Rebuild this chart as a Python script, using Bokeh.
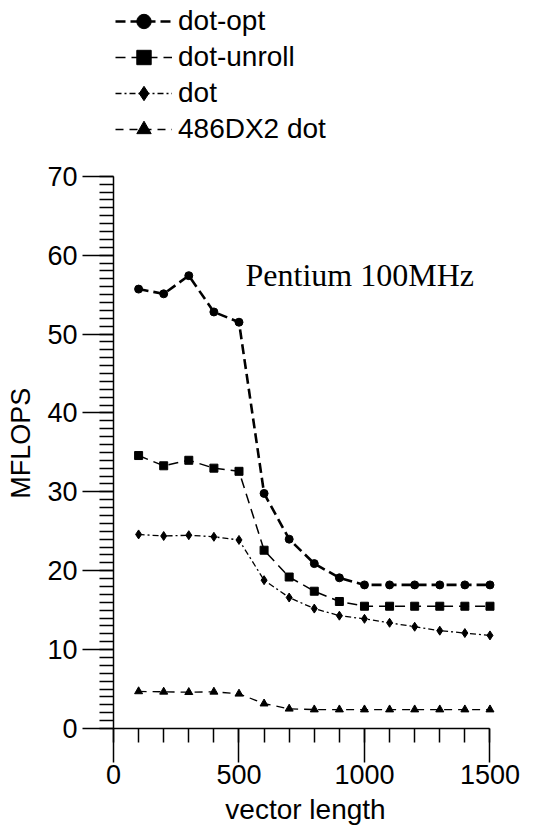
from bokeh.plotting import figure
from bokeh.models import Legend, LegendItem, Label, FixedTicker, Range1d
from bokeh.embed import file_html
from bokeh.resources import INLINE

vector_length = [100, 200, 300, 400, 500, 600, 700, 800, 900, 1000, 1100, 1200, 1300, 1400, 1500]
dot_opt = [55.7, 55.1, 57.4, 52.8, 51.5, 29.8, 24.0, 20.9, 19.1, 18.2, 18.2, 18.2, 18.2, 18.2, 18.2]
dot_unroll = [34.6, 33.3, 34.0, 33.0, 32.6, 22.6, 19.2, 17.4, 16.1, 15.5, 15.5, 15.5, 15.5, 15.5, 15.5]
dot = [24.6, 24.4, 24.5, 24.3, 23.9, 18.8, 16.6, 15.2, 14.3, 13.9, 13.4, 12.9, 12.4, 12.1, 11.8]
dx2_dot = [4.7, 4.65, 4.6, 4.65, 4.4, 3.15, 2.5, 2.4, 2.4, 2.4, 2.4, 2.4, 2.4, 2.4, 2.4]

x_major = [0, 500, 1000, 1500]
x_minor = list(range(0, 1501, 100))
y_major = [0, 10, 20, 30, 40, 50, 60, 70]
y_minor = list(range(0, 71, 1))

FONT = "Liberation Sans"

p = figure(width=544, height=827, output_backend="svg", toolbar_location=None,
           x_range=Range1d(0, 1530), y_range=Range1d(0, 92.28),
           min_border_left=113, min_border_right=47, min_border_top=0, min_border_bottom=98)
p.grid.visible = False
p.outline_line_color = None
p.background_fill_color = "white"

series = [
    ("dot-opt", dot_opt, "circle", 8, 2.6, "10 5"),
    ("dot-unroll", dot_unroll, "square", 8, 1.5, "10 6"),
    ("dot", dot, "diamond", 9, 1.3, "6 3 2 3"),
    ("486DX2 dot", dx2_dot, "triangle", 8, 1.3, "8 6"),
]
items = []
for name, ys, marker, size, lw, dash in series:
    r1 = p.line(vector_length, ys, line_color="black", line_width=lw, line_dash=dash)
    r2 = p.scatter(vector_length, ys, marker=marker, size=size, fill_color="black", line_color="black")
    items.append(LegendItem(label=name, renderers=[r1, r2]))

legend = Legend(items=items, location=(2, 581), orientation="vertical",
                label_text_font=FONT, label_text_font_size="28px", label_text_color="black",
                label_height=36, glyph_height=36, glyph_width=57, label_standoff=6,
                spacing=0, padding=0, margin=0,
                border_line_color=None, background_fill_alpha=0)
p.add_layout(legend, "center")

for ax in (p.xaxis[0], p.yaxis[0]):
    ax.axis_line_color = "black"
    ax.axis_line_width = 1.5
    ax.major_tick_line_color = "black"
    ax.minor_tick_line_color = "black"
    ax.major_tick_line_width = 1.5
    ax.minor_tick_line_width = 1.5
    ax.major_tick_in = 0
    ax.minor_tick_in = 0
    ax.major_label_text_font = FONT
    ax.major_label_text_font_size = "27px"
    ax.major_label_text_color = "black"
    ax.axis_label_text_font = FONT
    ax.axis_label_text_font_size = "28px"
    ax.axis_label_text_font_style = "normal"
    ax.axis_label_text_color = "black"

p.xaxis.ticker = FixedTicker(ticks=x_major, minor_ticks=x_minor)
p.xaxis.bounds = (0, 1500)
p.xaxis.major_tick_out = 34
p.xaxis.minor_tick_out = 14
p.xaxis.major_label_standoff = 2
p.xaxis.axis_label = "vector length"
p.xaxis.axis_label_standoff = 7

p.yaxis.ticker = FixedTicker(ticks=y_major, minor_ticks=y_minor)
p.yaxis.bounds = (0, 70)
p.yaxis.major_tick_out = 31
p.yaxis.minor_tick_out = 14
p.yaxis.major_label_standoff = 5
# trailing no-break spaces shift the rotated label down to the centre of the 0-70 axis span
p.yaxis.axis_label = "MFLOPS" + "\u00a0" * 21
p.yaxis.axis_label_text_font_size = "27px"
p.yaxis.axis_label_standoff = 8

p.add_layout(Label(x=526, y=57.5, text="Pentium 100MHz", text_font="Liberation Serif",
                   text_font_size="32px", text_color="black", text_baseline="alphabetic"))

open("out.html", "w").write(file_html(p, INLINE))
